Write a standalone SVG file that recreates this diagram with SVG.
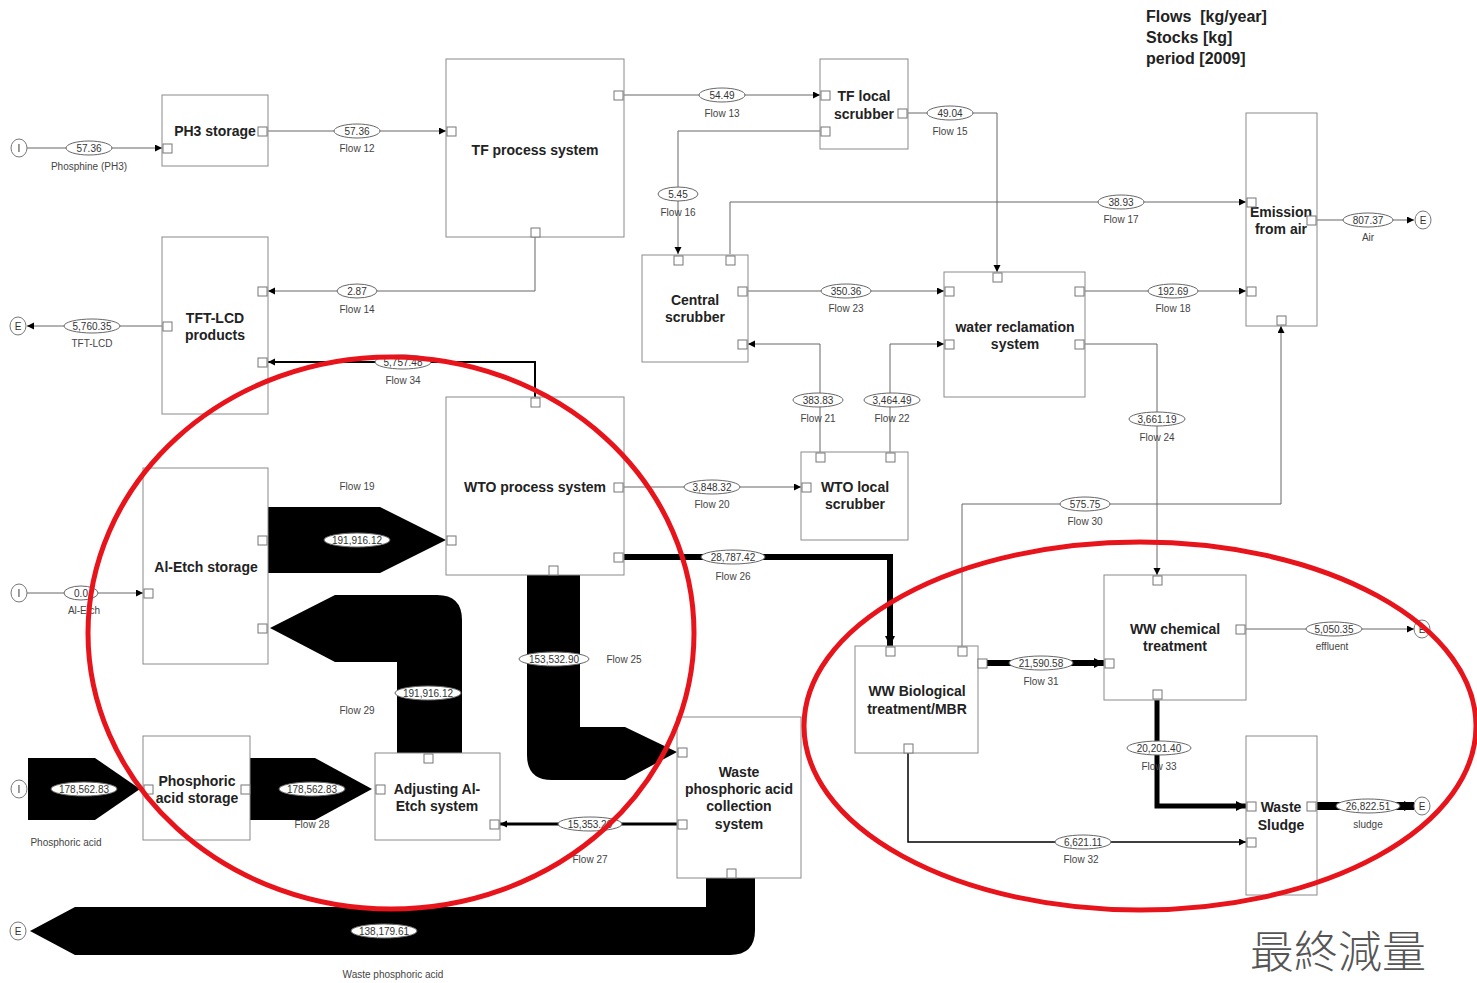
<svg xmlns="http://www.w3.org/2000/svg" width="1477" height="983" viewBox="0 0 1477 983">
<style>
.box{fill:#fff;stroke:#8a8a8a;stroke-width:1}
.port{fill:#fff;stroke:#777;stroke-width:1}
.ln{fill:none;stroke:#666;stroke-width:1}
.thk{fill:none;stroke:#000}
.band{fill:#000}
.nt{font-family:"Liberation Sans",Arial,sans-serif;font-weight:bold;font-size:14px;fill:#222;text-anchor:middle}
.lg{font-family:"Liberation Sans",Arial,sans-serif;font-weight:bold;font-size:16px;fill:#222}
.ve{fill:#fff;stroke:#666;stroke-width:1}
.vt{font-family:"Liberation Sans",Arial,sans-serif;font-size:10px;fill:#333;text-anchor:middle}
.fl{font-family:"Liberation Sans",Arial,sans-serif;font-size:10px;fill:#444;text-anchor:middle}
.io{fill:#fff;stroke:#777;stroke-width:1}
.iot{font-family:"Liberation Sans",Arial,sans-serif;font-size:10px;fill:#333;text-anchor:middle}
.red{fill:none;stroke:#e8141b;stroke-width:5}
.cjk{font-family:"Noto Sans CJK TC","Noto Sans CJK JP",sans-serif;font-weight:300;font-size:44px;fill:#555}
</style>
<defs>
<marker id="ar" markerUnits="userSpaceOnUse" markerWidth="8" markerHeight="8" refX="7" refY="3.5" orient="auto"><path d="M0,0 L7,3.5 L0,7 Z" fill="#000"/></marker>
<marker id="arb" markerUnits="userSpaceOnUse" markerWidth="12" markerHeight="12" refX="10" refY="5" orient="auto"><path d="M0,0 L10,5 L0,10 Z" fill="#000"/></marker>
</defs>
<rect width="1477" height="983" fill="#fff"/>

<g id="legend">
<text class="lg" x="1146" y="22">Flows&#160; [kg/year]</text>
<text class="lg" x="1146" y="43">Stocks [kg]</text>
<text class="lg" x="1146" y="64">period [2009]</text>
</g>

<g id="connectors">
<path class="band" d="M28,758 L95,758 L140,789 L95,820 L28,820 Z"/>
<path class="band" d="M250,758 L315,758 L372,789 L315,820 L250,820 Z"/>
<path class="band" d="M270,628 L335,595 L437,595 Q462,595 462,620 L462,753 L397,753 L397,662 L335,662 Z"/>
<path class="band" d="M268,507 L380,507 L446,540 L380,573 L268,573 Z"/>
<path class="band" d="M527,575 L580,575 L580,727 L625,727 L677,752 L625,780 L552,780 Q527,780 527,755 Z"/>
<path class="band" d="M706,878 L755,878 L755,930 Q755,955 730,955 L75,955 L30,931 L75,907 L706,907 Z"/>
<path class="ln" d="M27,148 L162,148" marker-end="url(#ar)"/>
<path class="ln" d="M268,131 L446,131" marker-end="url(#ar)"/>
<path class="ln" d="M624,95 L820,95" marker-end="url(#ar)"/>
<path class="ln" d="M908,113 L997,113 L997,272" marker-end="url(#ar)"/>
<path class="ln" d="M820,131 L678,131 L678,254" marker-end="url(#ar)"/>
<path class="ln" d="M730,254 L730,202 L1246,202" marker-end="url(#ar)"/>
<path class="ln" d="M1317,220 L1414,220" marker-end="url(#ar)"/>
<path class="ln" d="M535,237 L535,291 L268,291" marker-end="url(#ar)"/>
<path class="ln" d="M162,326 L27,326" marker-end="url(#ar)"/>
<path class="thk" stroke-width="2" d="M535,397 L535,362 L268,362" marker-end="url(#ar)"/>
<path class="ln" d="M748,291 L944,291" marker-end="url(#ar)"/>
<path class="ln" d="M1085,291 L1246,291" marker-end="url(#ar)"/>
<path class="ln" d="M820,452 L820,344 L748,344" marker-end="url(#ar)"/>
<path class="ln" d="M890,452 L890,344 L944,344" marker-end="url(#ar)"/>
<path class="ln" d="M1085,344 L1157,344 L1157,575" marker-end="url(#ar)"/>
<path class="ln" d="M624,487 L801,487" marker-end="url(#ar)"/>
<path class="thk" stroke-width="6" d="M624,557 L890,557 L890,646" marker-end="url(#arb)"/>
<path class="ln" d="M962,646 L962,504 L1281,504 L1281,326" marker-end="url(#ar)"/>
<path class="thk" stroke-width="6" d="M978,663 L1104,663" marker-end="url(#arb)"/>
<path class="ln" d="M1246,629 L1414,629" marker-end="url(#ar)"/>
<path class="thk" stroke-width="5" d="M1157,700 L1157,806 L1246,806" marker-end="url(#arb)"/>
<path class="thk" stroke-width="1.5" d="M908,753 L908,842 L1246,842" marker-end="url(#ar)"/>
<path class="thk" stroke-width="8" d="M1317,806 L1414,806" marker-end="url(#arb)"/>
<path class="thk" stroke-width="3" d="M677,824 L500,824" marker-end="url(#ar)"/>
<path class="ln" d="M27,593 L143,593" marker-end="url(#ar)"/>

<ellipse class="ve" cx="89" cy="148" rx="23" ry="7"/><text class="vt" x="89" y="151.5">57.36</text><text class="fl" x="89" y="170">Phosphine (PH3)</text>
<ellipse class="ve" cx="357" cy="131" rx="23" ry="7"/><text class="vt" x="357" y="134.5">57.36</text><text class="fl" x="357" y="152">Flow 12</text>
<ellipse class="ve" cx="722" cy="95" rx="23" ry="7"/><text class="vt" x="722" y="98.5">54.49</text><text class="fl" x="722" y="117">Flow 13</text>
<ellipse class="ve" cx="950" cy="113" rx="23" ry="7"/><text class="vt" x="950" y="116.5">49.04</text><text class="fl" x="950" y="135">Flow 15</text>
<ellipse class="ve" cx="678" cy="194" rx="20" ry="7"/><text class="vt" x="678" y="197.5">5.45</text><text class="fl" x="678" y="216">Flow 16</text>
<ellipse class="ve" cx="1121" cy="202" rx="23" ry="7"/><text class="vt" x="1121" y="205.5">38.93</text><text class="fl" x="1121" y="223">Flow 17</text>
<ellipse class="ve" cx="1368" cy="220" rx="25" ry="7"/><text class="vt" x="1368" y="223.5">807.37</text><text class="fl" x="1368" y="241">Air</text>
<ellipse class="ve" cx="357" cy="291" rx="20" ry="7"/><text class="vt" x="357" y="294.5">2.87</text><text class="fl" x="357" y="313">Flow 14</text>
<ellipse class="ve" cx="92" cy="326" rx="28" ry="7"/><text class="vt" x="92" y="329.5">5,760.35</text><text class="fl" x="92" y="347">TFT-LCD</text>
<ellipse class="ve" cx="403" cy="362" rx="28" ry="7"/><text class="vt" x="403" y="365.5">5,757.48</text><text class="fl" x="403" y="384">Flow 34</text>
<ellipse class="ve" cx="846" cy="291" rx="25" ry="7"/><text class="vt" x="846" y="294.5">350.36</text><text class="fl" x="846" y="312">Flow 23</text>
<ellipse class="ve" cx="1173" cy="291" rx="25" ry="7"/><text class="vt" x="1173" y="294.5">192.69</text><text class="fl" x="1173" y="312">Flow 18</text>
<ellipse class="ve" cx="818" cy="400" rx="25" ry="7"/><text class="vt" x="818" y="403.5">383.83</text><text class="fl" x="818" y="422">Flow 21</text>
<ellipse class="ve" cx="892" cy="400" rx="28" ry="7"/><text class="vt" x="892" y="403.5">3,464.49</text><text class="fl" x="892" y="422">Flow 22</text>
<ellipse class="ve" cx="1157" cy="419" rx="28" ry="7"/><text class="vt" x="1157" y="422.5">3,661.19</text><text class="fl" x="1157" y="441">Flow 24</text>
<ellipse class="ve" cx="712" cy="487" rx="28" ry="7"/><text class="vt" x="712" y="490.5">3,848.32</text><text class="fl" x="712" y="508">Flow 20</text>
<ellipse class="ve" cx="733" cy="557" rx="32" ry="7"/><text class="vt" x="733" y="560.5">28,787.42</text><text class="fl" x="733" y="580">Flow 26</text>
<ellipse class="ve" cx="1085" cy="504" rx="25" ry="7"/><text class="vt" x="1085" y="507.5">575.75</text><text class="fl" x="1085" y="525">Flow 30</text>
<ellipse class="ve" cx="1041" cy="663" rx="32" ry="7"/><text class="vt" x="1041" y="666.5">21,590.58</text><text class="fl" x="1041" y="685">Flow 31</text>
<ellipse class="ve" cx="1334" cy="629" rx="28" ry="7"/><text class="vt" x="1334" y="632.5">5,050.35</text><text class="fl" x="1332" y="650">effluent</text>
<ellipse class="ve" cx="1159" cy="748" rx="32" ry="7"/><text class="vt" x="1159" y="751.5">20,201.40</text><text class="fl" x="1159" y="770">Flow 33</text>
<ellipse class="ve" cx="1083" cy="842" rx="28" ry="7"/><text class="vt" x="1083" y="845.5">6,621.11</text><text class="fl" x="1081" y="863">Flow 32</text>
<ellipse class="ve" cx="1368" cy="806" rx="32" ry="7"/><text class="vt" x="1368" y="809.5">26,822.51</text><text class="fl" x="1368" y="828">sludge</text>
<ellipse class="ve" cx="590" cy="824" rx="32" ry="7"/><text class="vt" x="590" y="827.5">15,353.29</text><text class="fl" x="590" y="863">Flow 27</text>
<ellipse class="ve" cx="81" cy="593" rx="17" ry="7"/><text class="vt" x="81" y="596.5">0.0</text><text class="fl" x="84" y="614">Al-Etch</text>
<ellipse class="ve" cx="84" cy="789" rx="33" ry="7"/><text class="vt" x="84" y="792.5">178,562.83</text><text class="fl" x="66" y="846">Phosphoric acid</text>
<ellipse class="ve" cx="312" cy="789" rx="33" ry="7"/><text class="vt" x="312" y="792.5">178,562.83</text><text class="fl" x="312" y="828">Flow 28</text>
<ellipse class="ve" cx="428" cy="693" rx="33" ry="7"/><text class="vt" x="428" y="696.5">191,916.12</text><text class="fl" x="357" y="714">Flow 29</text>
<ellipse class="ve" cx="357" cy="540" rx="33" ry="7"/><text class="vt" x="357" y="543.5">191,916.12</text><text class="fl" x="357" y="490">Flow 19</text>
<ellipse class="ve" cx="554" cy="659" rx="35" ry="7"/><text class="vt" x="554" y="662.5">153,532.90</text><text class="fl" x="624" y="663">Flow 25</text>
<ellipse class="ve" cx="384" cy="931" rx="33" ry="7"/><text class="vt" x="384" y="934.5">138,179.61</text><text class="fl" x="393" y="978">Waste phosphoric acid</text>
</g>

<g id="io">
<ellipse class="io" cx="19" cy="148" rx="8" ry="9"/><text class="iot" x="19" y="151.5">I</text>
<ellipse class="io" cx="18" cy="326" rx="8" ry="9"/><text class="iot" x="18" y="329.5">E</text>
<ellipse class="io" cx="1423" cy="220" rx="8" ry="9"/><text class="iot" x="1423" y="223.5">E</text>
<ellipse class="io" cx="19" cy="593" rx="8" ry="9"/><text class="iot" x="19" y="596.5">I</text>
<ellipse class="io" cx="1422" cy="629" rx="8" ry="9"/><text class="iot" x="1422" y="632.5">E</text>
<ellipse class="io" cx="19" cy="789" rx="8" ry="9"/><text class="iot" x="19" y="792.5">I</text>
<ellipse class="io" cx="1422" cy="806" rx="8" ry="9"/><text class="iot" x="1422" y="809.5">E</text>
<ellipse class="io" cx="18" cy="931" rx="8" ry="9"/><text class="iot" x="18" y="934.5">E</text>
</g>

<g id="ph3-storage"><rect class="box" x="162" y="95" width="106" height="71"/><text class="nt" x="215" y="136">PH3 storage</text>
<rect class="port" x="163" y="144" width="9" height="9"/><rect class="port" x="258" y="127" width="9" height="9"/></g>

<g id="tf-process"><rect class="box" x="446" y="59" width="178" height="178"/><text class="nt" x="535" y="155">TF process system</text>
<rect class="port" x="447" y="127" width="9" height="9"/><rect class="port" x="614" y="91" width="9" height="9"/><rect class="port" x="531" y="228" width="9" height="9"/></g>

<g id="tf-local"><rect class="box" x="820" y="59" width="88" height="90"/><text class="nt" x="864" y="101">TF local</text><text class="nt" x="864" y="119">scrubber</text>
<rect class="port" x="821" y="91" width="9" height="9"/><rect class="port" x="821" y="127" width="9" height="9"/><rect class="port" x="898" y="109" width="9" height="9"/></g>

<g id="emission"><rect class="box" x="1246" y="113" width="71" height="213"/><text class="nt" x="1281" y="217">Emission</text><text class="nt" x="1281" y="234">from air</text>
<rect class="port" x="1247" y="198" width="9" height="9"/><rect class="port" x="1247" y="287" width="9" height="9"/><rect class="port" x="1307" y="216" width="9" height="9"/><rect class="port" x="1277" y="316" width="9" height="9"/></g>

<g id="tft-lcd"><rect class="box" x="162" y="237" width="106" height="177"/><text class="nt" x="215" y="323">TFT-LCD</text><text class="nt" x="215" y="340">products</text>
<rect class="port" x="258" y="287" width="9" height="9"/><rect class="port" x="258" y="358" width="9" height="9"/><rect class="port" x="163" y="322" width="9" height="9"/></g>

<g id="central-scrubber"><rect class="box" x="642" y="255" width="106" height="107"/><text class="nt" x="695" y="305">Central</text><text class="nt" x="695" y="322">scrubber</text>
<rect class="port" x="674" y="256" width="9" height="9"/><rect class="port" x="726" y="256" width="9" height="9"/><rect class="port" x="738" y="287" width="9" height="9"/><rect class="port" x="738" y="340" width="9" height="9"/></g>

<g id="water-reclamation"><rect class="box" x="944" y="272" width="141" height="125"/><text class="nt" x="1015" y="332">water reclamation</text><text class="nt" x="1015" y="349">system</text>
<rect class="port" x="993" y="273" width="9" height="9"/><rect class="port" x="945" y="287" width="9" height="9"/><rect class="port" x="945" y="340" width="9" height="9"/><rect class="port" x="1075" y="287" width="9" height="9"/><rect class="port" x="1075" y="340" width="9" height="9"/></g>

<g id="wto-process"><rect class="box" x="446" y="397" width="178" height="178"/><text class="nt" x="535" y="492">WTO process system</text>
<rect class="port" x="531" y="398" width="9" height="9"/><rect class="port" x="614" y="483" width="9" height="9"/><rect class="port" x="447" y="536" width="9" height="9"/><rect class="port" x="614" y="553" width="9" height="9"/><rect class="port" x="549" y="566" width="9" height="9"/></g>

<g id="wto-local"><rect class="box" x="801" y="452" width="107" height="88"/><text class="nt" x="855" y="492">WTO local</text><text class="nt" x="855" y="509">scrubber</text>
<rect class="port" x="802" y="483" width="9" height="9"/><rect class="port" x="816" y="453" width="9" height="9"/><rect class="port" x="886" y="453" width="9" height="9"/></g>

<g id="al-etch-storage"><rect class="box" x="143" y="468" width="125" height="196"/><text class="nt" x="206" y="572">Al-Etch storage</text>
<rect class="port" x="144" y="589" width="9" height="9"/><rect class="port" x="258" y="536" width="9" height="9"/><rect class="port" x="258" y="624" width="9" height="9"/></g>

<g id="ww-chemical"><rect class="box" x="1104" y="575" width="142" height="125"/><text class="nt" x="1175" y="634">WW chemical</text><text class="nt" x="1175" y="651">treatment</text>
<rect class="port" x="1153" y="576" width="9" height="9"/><rect class="port" x="1236" y="625" width="9" height="9"/><rect class="port" x="1105" y="659" width="9" height="9"/><rect class="port" x="1153" y="690" width="9" height="9"/></g>

<g id="ww-biological"><rect class="box" x="855" y="646" width="123" height="107"/><text class="nt" x="917" y="696">WW Biological</text><text class="nt" x="917" y="714">treatment/MBR</text>
<rect class="port" x="886" y="647" width="9" height="9"/><rect class="port" x="958" y="647" width="9" height="9"/><rect class="port" x="978" y="659" width="9" height="9"/><rect class="port" x="904" y="744" width="9" height="9"/></g>

<g id="phosphoric-storage"><rect class="box" x="143" y="736" width="107" height="104"/><text class="nt" x="197" y="786">Phosphoric</text><text class="nt" x="197" y="803">acid storage</text>
<rect class="port" x="144" y="785" width="9" height="9"/><rect class="port" x="241" y="785" width="9" height="9"/></g>

<g id="adjusting"><rect class="box" x="375" y="753" width="125" height="87"/><text class="nt" x="437" y="794">Adjusting Al-</text><text class="nt" x="437" y="811">Etch system</text>
<rect class="port" x="376" y="785" width="9" height="9"/><rect class="port" x="424" y="754" width="9" height="9"/><rect class="port" x="490" y="820" width="9" height="9"/></g>

<g id="waste-phosphoric"><rect class="box" x="677" y="717" width="124" height="161"/><text class="nt" x="739" y="777">Waste</text><text class="nt" x="739" y="794">phosphoric acid</text><text class="nt" x="739" y="811">collection</text><text class="nt" x="739" y="829">system</text>
<rect class="port" x="678" y="748" width="9" height="9"/><rect class="port" x="678" y="820" width="9" height="9"/><rect class="port" x="727" y="869" width="9" height="9"/></g>

<g id="waste-sludge"><rect class="box" x="1246" y="736" width="71" height="159"/><text class="nt" x="1281" y="812">Waste</text><text class="nt" x="1281" y="830">Sludge</text>
<rect class="port" x="1247" y="802" width="9" height="9"/><rect class="port" x="1247" y="838" width="9" height="9"/><rect class="port" x="1307" y="802" width="9" height="9"/></g>

<g id="annotations">
<ellipse class="red" cx="391" cy="633" rx="303" ry="276"/>
<ellipse class="red" cx="1140" cy="726" rx="336" ry="184"/>
<text class="cjk" x="1250" y="968">最終減量</text>
</g>
</svg>
